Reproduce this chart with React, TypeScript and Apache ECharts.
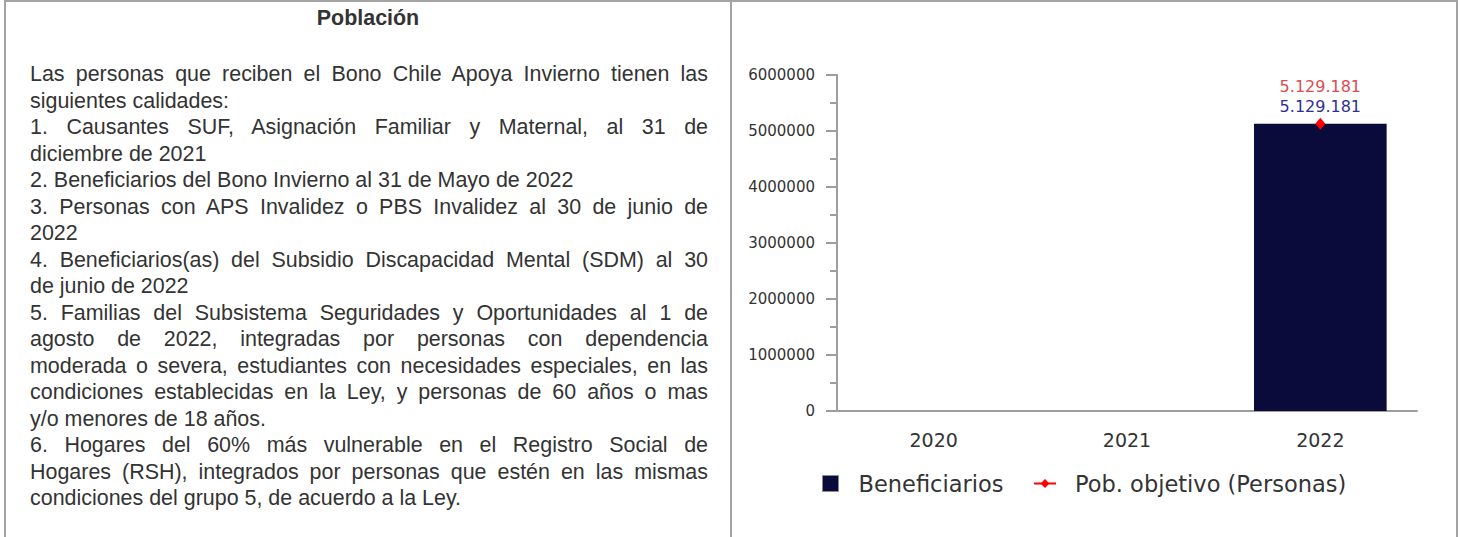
import React, { useEffect, useRef } from "react";
import * as echarts from "echarts";

const categories = ["2020", "2021", "2022"];
const beneficiarios: (number | null)[] = [null, null, 5129181];
const poblacionObjetivo: (number | null)[] = [null, null, 5129181];
const yMin = 0;
const yMax = 6000000;
const yInterval = 1000000;
const seriesNames = ["Beneficiarios", "Pob. objetivo (Personas)"];

const title = "Población";
const textLines: { text: string; justify: boolean }[] = [
  { text: "Las personas que reciben el Bono Chile Apoya Invierno tienen las", justify: true },
  { text: "siguientes calidades:", justify: false },
  { text: "1. Causantes SUF, Asignación Familiar y Maternal, al 31 de", justify: true },
  { text: "diciembre de 2021", justify: false },
  { text: "2. Beneficiarios del Bono Invierno al 31 de Mayo de 2022", justify: false },
  { text: "3. Personas con APS Invalidez o PBS Invalidez al 30 de junio de", justify: true },
  { text: "2022", justify: false },
  { text: "4. Beneficiarios(as) del Subsidio Discapacidad Mental (SDM) al 30", justify: true },
  { text: "de junio de 2022", justify: false },
  { text: "5. Familias del Subsistema Seguridades y Oportunidades al 1 de", justify: true },
  { text: "agosto de 2022, integradas por personas con dependencia", justify: true },
  { text: "moderada o severa, estudiantes con necesidades especiales, en las", justify: true },
  { text: "condiciones establecidas en la Ley, y personas de 60 años o mas", justify: true },
  { text: "y/o menores de 18 años.", justify: false },
  { text: "6. Hogares del 60% más vulnerable en el Registro Social de", justify: true },
  { text: "Hogares (RSH), integrados por personas que estén en las mismas", justify: true },
  { text: "condiciones del grupo 5, de acuerdo a la Ley.", justify: false },
];

const fmt = (v: number) => String(Math.round(v)).replace(/\B(?=(\d{3})+(?!\d))/g, ".");

const FONT = "'DejaVu Sans', sans-serif";
const BORDER = "#a3a3a3";

export default function App() {
  const ref = useRef<HTMLDivElement>(null);

  useEffect(() => {
    if (!ref.current) return;
    const chart = echarts.init(ref.current, null, { renderer: "svg" });
    chart.setOption({
      animation: false,
      backgroundColor: "transparent",
      grid: { left: 837, top: 75, width: 580, height: 336, containLabel: false },
      legend: [
        {
          data: [
            {
              name: seriesNames[0],
              icon: "rect",
              itemStyle: { borderColor: "#8a8a9a", borderWidth: 1 },
            },
          ],
          left: 822,
          top: 472,
          padding: 0,
          itemWidth: 16,
          itemHeight: 16,
          textStyle: { fontFamily: FONT, fontSize: 22.5, color: "#333", padding: [0, 0, 0, 15] },
        },
        {
          data: [{ name: seriesNames[1] }],
          left: 1033,
          top: 472,
          padding: 0,
          itemWidth: 22,
          itemHeight: 11,
          textStyle: { fontFamily: FONT, fontSize: 22.5, color: "#333", padding: [0, 0, 0, 14] },
        },
      ],
      xAxis: {
        type: "category",
        data: categories,
        axisLine: { show: true, lineStyle: { color: "#9e9e9e", width: 2 } },
        axisTick: { show: false },
        axisLabel: { fontFamily: FONT, fontSize: 19, color: "#333", margin: 19 },
        splitLine: { show: false },
      },
      yAxis: {
        type: "value",
        min: yMin,
        max: yMax,
        interval: yInterval,
        axisLine: { show: true, lineStyle: { color: "#9e9e9e", width: 2 } },
        axisTick: { show: true, length: 11, lineStyle: { color: "#9e9e9e", width: 2 } },
        minorTick: { show: true, splitNumber: 2, length: 7, lineStyle: { color: "#9e9e9e", width: 2 } },
        axisLabel: {
          fontFamily: FONT,
          fontSize: 15,
          color: "#333",
          margin: 22,
          formatter: (v: number) => String(v),
        },
        splitLine: { show: false },
      },
      series: [
        {
          name: seriesNames[0],
          type: "bar",
          data: beneficiarios,
          barWidth: "68.6%",
          itemStyle: { color: "#0b0b3b" },
          label: {
            show: true,
            position: "top",
            distance: 9,
            fontFamily: FONT,
            fontSize: 16,
            lineHeight: 16,
            color: "#2e2e96",
            formatter: (p: any) => fmt(p.value),
          },
        },
        {
          name: seriesNames[1],
          type: "line",
          data: poblacionObjetivo,
          color: "#ff0000",
          symbol: "diamond",
          symbolSize: [10, 12],
          lineStyle: { color: "#ff0000", width: 2 },
          itemStyle: { color: "#ff0000" },
          label: {
            show: true,
            position: "top",
            distance: 23,
            fontFamily: FONT,
            fontSize: 16,
            lineHeight: 16,
            color: "#dd4a50",
            formatter: (p: any) => fmt(p.value),
          },
        },
      ],
    });
    return () => chart.dispose();
  }, []);

  const textFont = "'Liberation Sans', Arial, sans-serif";

  return (
    <div
      style={{
        position: "absolute",
        left: 0,
        top: 0,
        width: 1460,
        height: 537,
        background: "#fff",
        overflow: "hidden",
      }}
    >
      <div ref={ref} style={{ position: "absolute", left: 0, top: 0, width: 1460, height: 537 }} />
      <div style={{ position: "absolute", left: 4, top: 0, width: 1454, height: 2, background: BORDER }} />
      <div style={{ position: "absolute", left: 4, top: 0, width: 2, height: 537, background: BORDER }} />
      <div style={{ position: "absolute", left: 730, top: 0, width: 2, height: 537, background: BORDER }} />
      <div style={{ position: "absolute", left: 1456, top: 0, width: 2, height: 537, background: BORDER }} />
      <div
        style={{
          position: "absolute",
          left: 6,
          top: 5,
          width: 724,
          textAlign: "center",
          fontFamily: textFont,
          fontWeight: "bold",
          fontSize: "21.45px",
          lineHeight: "26.4px",
          color: "#333",
          pointerEvents: "none",
        }}
      >
        {title}
      </div>
      <div
        style={{
          position: "absolute",
          left: 30,
          top: 61,
          width: 678,
          fontFamily: textFont,
          fontSize: "21.45px",
          lineHeight: "26.5px",
          color: "#333",
          pointerEvents: "none",
        }}
      >
        {textLines.map((l, i) => (
          <div
            key={i}
            style={{
              textAlign: l.justify ? "justify" : "left",
              textAlignLast: l.justify ? "justify" : "left",
              whiteSpace: "nowrap",
            }}
          >
            {l.text}
          </div>
        ))}
      </div>
    </div>
  );
}
